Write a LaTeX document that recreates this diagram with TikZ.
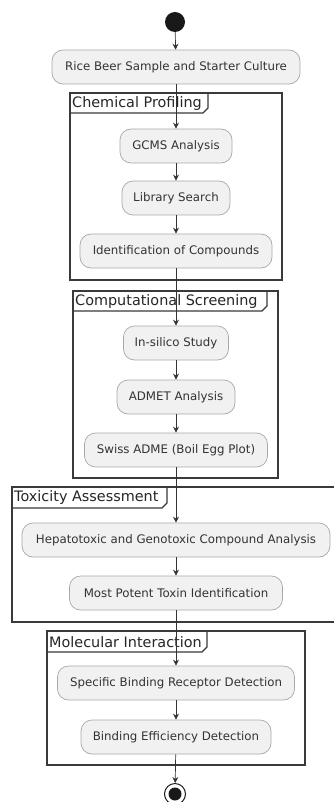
\documentclass[tikz,border=0pt]{standalone}
\usepackage{fontspec}
\setmainfont{DejaVu Sans}
\usetikzlibrary{arrows.meta}
\definecolor{boxfill}{HTML}{F1F1F1}
\definecolor{boxdraw}{HTML}{A8A8A8}
\definecolor{linec}{HTML}{333333}
\definecolor{framec}{HTML}{3A3A3A}
\begin{document}
\begin{tikzpicture}[x=1pt,y=-1pt,
  act/.style={draw=boxdraw,fill=boxfill,rounded corners=11pt,line width=0.7pt,
    minimum height=34pt,inner sep=0pt,font=\fontsize{11.8}{13}\selectfont,text=black!80},
  flow/.style={draw=linec,line width=0.7pt,-{Stealth[length=6pt,width=6pt,inset=2pt]}},
  frame/.style={draw=framec,line width=1.2pt},
  ftitle/.style={font=\fontsize{14.4}{16}\selectfont,anchor=west,inner sep=0pt,text=black!85}]
\useasboundingbox (0,0) rectangle (334,802);
\fill[white] (0,0) rectangle (334,802);

% frames
\draw[frame] (70,93) rectangle (282,280);
\draw[frame] (70,113) -- (203,113) -- (208,108) -- (208,93);
\node[ftitle] (t1) at (72,103.5) {Chemical Profiling};

\draw[frame] (73,291) rectangle (278,478);
\draw[frame] (73,311) -- (262,311) -- (267,306) -- (267,291);
\node[ftitle] (t2) at (75,301.5) {Computational Screening};

\draw[frame] (12,487) rectangle (340,622);
\draw[frame] (12,508) -- (162,508) -- (167,503) -- (167,487);
\node[ftitle] (t3) at (14,498) {Toxicity Assessment};

\draw[frame] (47,631) rectangle (305,765);
\draw[frame] (47,652) -- (202,652) -- (207,647) -- (207,631);
\node[ftitle] (t4) at (49,642) {Molecular Interaction};

% start / end
\node[circle,fill=black!90,minimum size=20pt,inner sep=0pt] (start) at (175,22) {};
\node[act,minimum width=248pt] (b1) at (176,67) {Rice Beer Sample and Starter Culture};
\node[act,minimum width=112pt] (b2) at (176,146) {GCMS Analysis};
\node[act,minimum width=108pt] (b3) at (176,198) {Library Search};
\node[act,minimum width=192pt] (b4) at (176,251) {Identification of Compounds};
\node[act,minimum width=105pt] (b5) at (176,343) {In-silico Study};
\node[act,minimum width=118pt] (b6) at (176,397) {ADMET Analysis};
\node[act,minimum width=183pt] (b7) at (176,450) {Swiss ADME (Boil Egg Plot)};
\node[act,minimum width=308pt] (b8) at (176,540) {Hepatotoxic and Genotoxic Compound Analysis};
\node[act,minimum width=213pt] (b9) at (176,593) {Most Potent Toxin Identification};
\node[act,minimum width=237pt] (b10) at (176,683) {Specific Binding Receptor Detection};
\node[act,minimum width=190pt] (b11) at (176,737) {Binding Efficiency Detection};
\node[circle,draw=black!90,line width=1pt,fill=white,minimum size=21pt,inner sep=0pt] (end) at (175,794) {};
\node[circle,fill=black!90,minimum size=13pt,inner sep=0pt] (endin) at (end) {};

\draw[flow] (start) -- (b1);
\draw[flow] (b1) -- (b2);
\draw[flow] (b2) -- (b3);
\draw[flow] (b3) -- (b4);
\draw[flow] (b4) -- (b5);
\draw[flow] (b5) -- (b6);
\draw[flow] (b6) -- (b7);
\draw[flow] (b7) -- (b8);
\draw[flow] (b8) -- (b9);
\draw[flow] (b9) -- (b10);
\draw[flow] (b10) -- (b11);
\draw[flow] (b11) -- (end);
\end{tikzpicture}
\end{document}
